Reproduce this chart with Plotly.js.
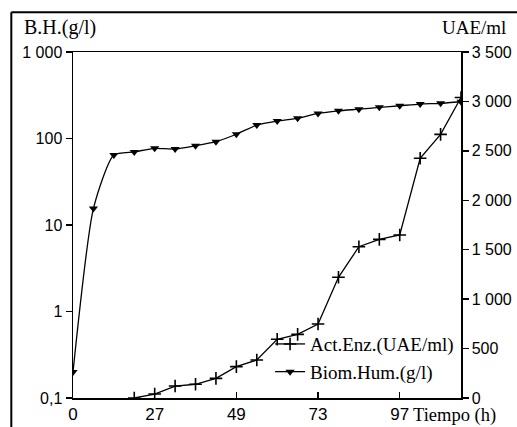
<!DOCTYPE html>
<html>
<head>
<meta charset="utf-8">
<script src="https://cdn.plot.ly/plotly-3.0.1.min.js"></script>
<style>
html,body{margin:0;padding:0;background:#fff;}
#chart{width:517px;height:427px;}
</style>
</head>
<body>
<div id="chart"></div>
<script>
// sample index (one sample roughly every 6 h)
const muestra = [0,1,2,3,4,5,6,7,8,9,10,11,12,13,14,15,16,17,18,19];
// Biomasa húmeda (g/l), log axis
const biomasa = [0.2, 15.5, 64.5, 70, 77, 75.5, 82.5, 92, 112, 143, 159, 171, 195, 209, 218, 229, 239, 250, 255, 266];
// Actividad enzimática (UAE/ml), from sample 3 on
const muestraEnz = [3,4,5,6,7,8,9,10,11,12,13,14,15,16,17,18,19];
const actividad = [0, 40, 121, 139, 199, 317, 384, 594, 644, 749, 1221, 1530, 1605, 1649, 2425, 2667, 3040];

const xTickVals = [0,4,8,12,16];
const xTickText = ['0','27','49','73','97'];
const yTickVals = [0.1,1,10,100,1000];
const yTickText = ['0,1','1','10','100','1 000'];
const y2TickVals = [0,500,1000,1500,2000,2500,3000,3500];
const y2TickText = ['0','500','1 000','1 500','2 000','2 500','3 000','3 500'];

const serif = 'Liberation Serif, Times New Roman, serif';
const sans = 'Liberation Sans, Arial, sans-serif';

const traces = [
  {
    x: muestraEnz, y: actividad, yaxis: 'y2', name: 'Act.Enz.(UAE/ml)',
    mode: 'lines+markers', type: 'scatter',
    line: {color: '#000', width: 1.3},
    marker: {symbol: 'cross-thin', size: 9, color: '#000', line: {color: '#000', width: 1.6}}
  },
  {
    x: muestra, y: biomasa, yaxis: 'y', name: 'Biom.Hum.(g/l)',
    mode: 'lines+markers', type: 'scatter',
    line: {color: '#000', width: 1.3, shape: 'spline', smoothing: 0.6},
    marker: {symbol: 'triangle-down', size: 8, color: '#000'}
  }
];

const layout = {
  width: 517, height: 427,
  margin: {l: 73, r: 56, t: 52, b: 29, pad: 0},
  paper_bgcolor: '#fff', plot_bgcolor: '#fff',
  showlegend: true,
  legend: {
    x: 0.995, xanchor: 'right', y: 0.02, yanchor: 'bottom',
    bgcolor: 'rgba(0,0,0,0)', borderwidth: 0,
    font: {family: serif, size: 19, color: '#000'},
    itemwidth: 30, tracegroupgap: 0
  },
  xaxis: {
    range: [0, 19], tickmode: 'array', tickvals: xTickVals, ticktext: xTickText,
    ticks: 'inside', ticklen: 6, tickwidth: 1.3, tickcolor: '#000',
    showline: true, linecolor: '#000', linewidth: 1.5, mirror: true,
    showgrid: false, zeroline: false,
    tickfont: {family: sans, size: 17, color: '#000'}
  },
  yaxis: {
    type: 'log', range: [-1, 3], tickmode: 'array', tickvals: yTickVals, ticktext: yTickText,
    ticks: 'outside', ticklen: 6, tickwidth: 1.3, tickcolor: '#000',
    showline: true, linecolor: '#000', linewidth: 1.5,
    showgrid: false, zeroline: false,
    tickfont: {family: sans, size: 16, color: '#000'}
  },
  yaxis2: {
    overlaying: 'y', side: 'right', range: [0, 3500],
    tickmode: 'array', tickvals: y2TickVals, ticktext: y2TickText,
    ticks: 'outside', ticklen: 6, tickwidth: 1.3, tickcolor: '#000',
    showline: true, linecolor: '#000', linewidth: 1.5,
    showgrid: false, zeroline: false,
    tickfont: {family: sans, size: 16, color: '#000'}
  },
  annotations: [
    {text: 'B.H.(g/l)', xref: 'paper', yref: 'paper', x: -0.132, y: 1.07,
     xanchor: 'left', yanchor: 'middle', showarrow: false,
     font: {family: serif, size: 20, color: '#000'}},
    {text: 'UAE/ml', xref: 'paper', yref: 'paper', x: 1.12, y: 1.07,
     xanchor: 'right', yanchor: 'middle', showarrow: false,
     font: {family: serif, size: 19, color: '#000'}},
    {text: 'Tiempo (h)', xref: 'paper', yref: 'paper', x: 0.872, y: -0.052,
     xanchor: 'left', yanchor: 'middle', showarrow: false,
     font: {family: serif, size: 18.5, color: '#000'}}
  ],
  shapes: [
    {type: 'line', xref: 'paper', yref: 'paper', x0: -0.159, x1: -0.159, y0: 1.115, y1: -0.1,
     line: {color: '#000', width: 2}},
    {type: 'line', xref: 'paper', yref: 'paper', x0: -0.159, x1: 1.16, y0: 1.115, y1: 1.115,
     line: {color: '#000', width: 2}}
  ]
};

Plotly.newPlot('chart', traces, layout, {displayModeBar: false, staticPlot: true});
</script>
</body>
</html>
